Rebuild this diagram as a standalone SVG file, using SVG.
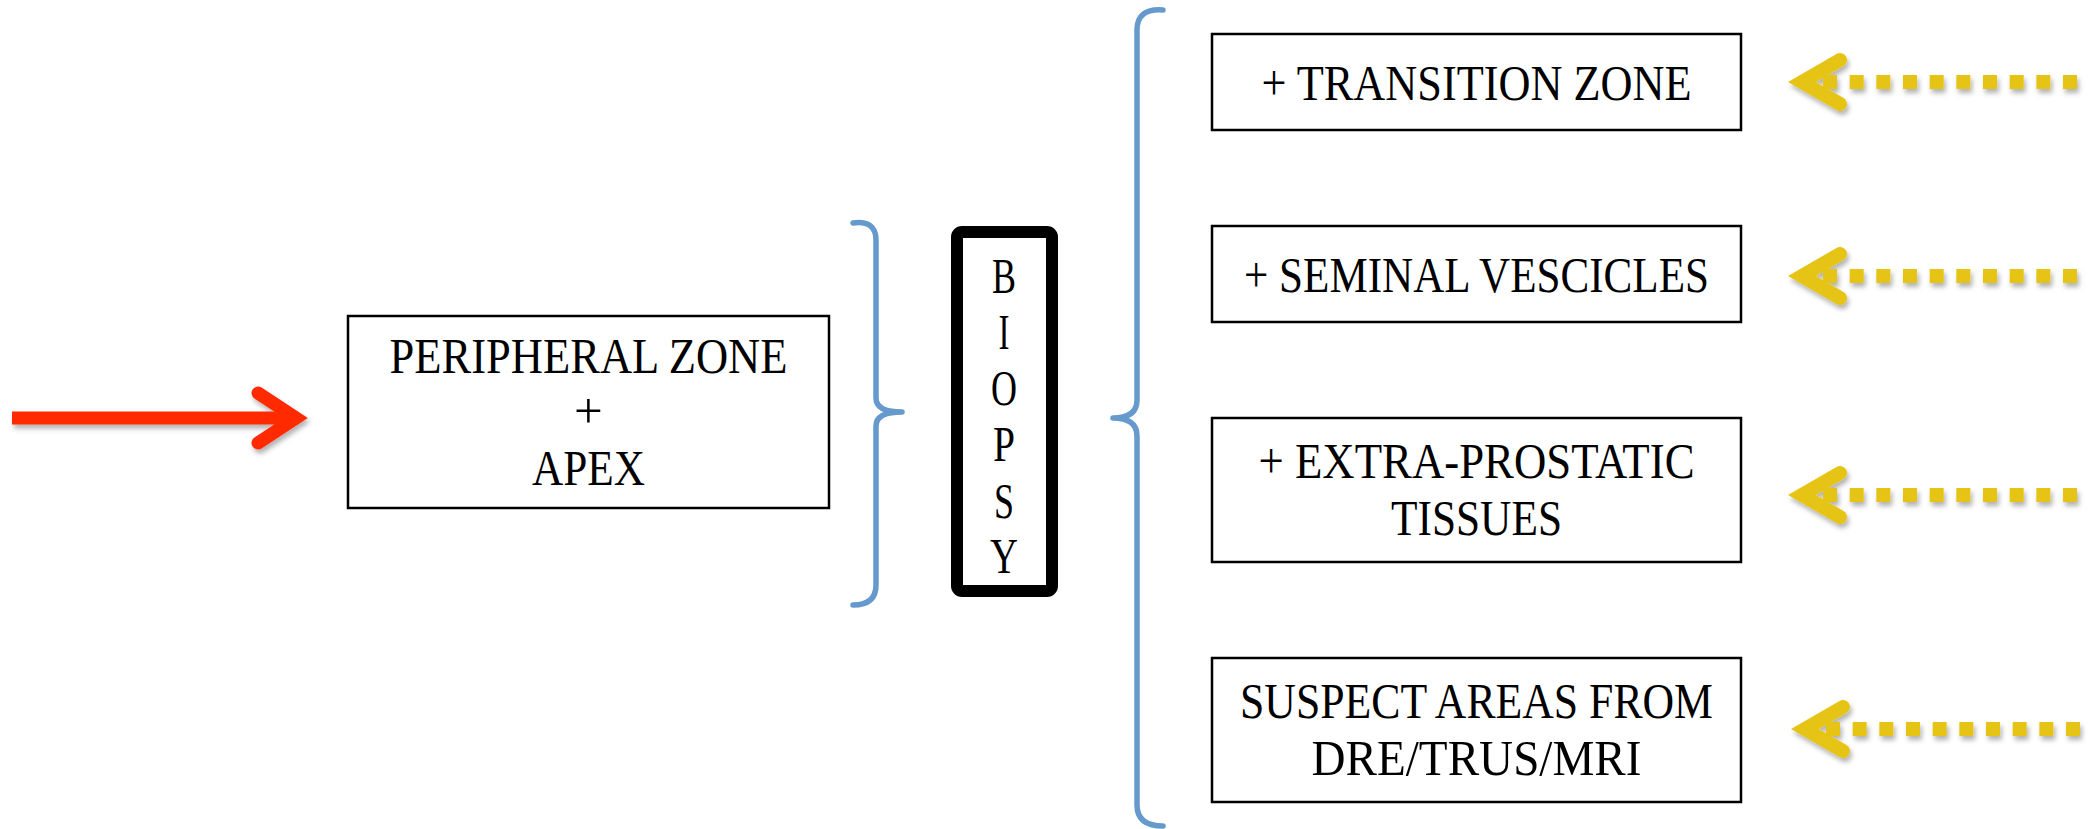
<svg xmlns="http://www.w3.org/2000/svg" width="2089" height="829" viewBox="0 0 2089 829">
<style>
.box{fill:#fff;stroke:#000;stroke-width:2.5}
.t{font-family:"Liberation Serif","Times New Roman",serif;font-size:51px;fill:#000;text-anchor:middle}
.brace{fill:none;stroke:#6699cc;stroke-width:5.5;stroke-linecap:round;stroke-linejoin:round}
.red{fill:none;stroke:#ff2a00;stroke-width:13}
.yel{fill:none;stroke:#e6c412;stroke-width:14}
</style>
<defs>
<filter id="sh" x="-10%" y="-30%" width="130%" height="180%">
<feDropShadow dx="2" dy="4" stdDeviation="2.5" flood-color="#000" flood-opacity="0.3"/>
</filter>
</defs>
<g id="connectors">
<g id="red-arrow" filter="url(#sh)">
<line class="red" x1="12" y1="418" x2="298" y2="418"/>
<polyline class="red" points="258,393 296,418 258,443" stroke-linecap="round" stroke-linejoin="miter"/>
</g>
<g id="yellow-arrows" filter="url(#sh)">
<line class="yel" x1="1823" y1="82" x2="2077" y2="82" stroke-dasharray="14 12.67"/>
<polyline class="yel" points="1840,60 1802,82 1840,104" stroke-linecap="round"/>
<line class="yel" x1="1823" y1="276" x2="2077" y2="276" stroke-dasharray="14 12.67"/>
<polyline class="yel" points="1840,254 1802,276 1840,298" stroke-linecap="round"/>
<line class="yel" x1="1823" y1="495" x2="2077" y2="495" stroke-dasharray="14 12.67"/>
<polyline class="yel" points="1840,473 1802,495 1840,517" stroke-linecap="round"/>
<line class="yel" x1="1826" y1="729" x2="2080" y2="729" stroke-dasharray="14 12.67"/>
<polyline class="yel" points="1843,707 1805,729 1843,751" stroke-linecap="round"/>
</g>
<path id="left-brace" class="brace" d="M853,223 Q876,220 876,240 L876,398 Q876,412 902,412 Q876,412 876,426 L876,585 Q876,605 853,605"/>
<path id="right-brace" class="brace" d="M1163,10 Q1137,8 1137,30 L1137,400 Q1137,418 1113,418 Q1137,418 1137,436 L1137,805 Q1137,826 1163,826"/>
</g>
<g id="peripheral">
<rect class="box" x="348" y="316" width="481" height="192"/>
<text class="t" x="588.5" y="373" textLength="398" lengthAdjust="spacingAndGlyphs">PERIPHERAL ZONE</text>
<text class="t" x="588.5" y="428">+</text>
<text class="t" x="588.5" y="485" textLength="113" lengthAdjust="spacingAndGlyphs">APEX</text>
</g>
<g id="biopsy">
<rect x="957" y="232" width="95" height="359" rx="5" fill="#fff" stroke="#000" stroke-width="12"/>
<text class="t" x="1004" y="293" textLength="24" lengthAdjust="spacingAndGlyphs">B</text>
<text class="t" x="1004" y="349" textLength="11" lengthAdjust="spacingAndGlyphs">I</text>
<text class="t" x="1004" y="405" textLength="26" lengthAdjust="spacingAndGlyphs">O</text>
<text class="t" x="1004" y="461" textLength="22" lengthAdjust="spacingAndGlyphs">P</text>
<text class="t" x="1004" y="518" textLength="20" lengthAdjust="spacingAndGlyphs">S</text>
<text class="t" x="1004" y="573" textLength="28" lengthAdjust="spacingAndGlyphs">Y</text>
</g>
<g id="transition">
<rect class="box" x="1212" y="34" width="529" height="96"/>
<text class="t" x="1476.5" y="100" textLength="430" lengthAdjust="spacingAndGlyphs">+ TRANSITION ZONE</text>
</g>
<g id="seminal">
<rect class="box" x="1212" y="226" width="529" height="96"/>
<text class="t" x="1476.5" y="292" textLength="465" lengthAdjust="spacingAndGlyphs">+ SEMINAL VESCICLES</text>
</g>
<g id="extra">
<rect class="box" x="1212" y="418" width="529" height="144"/>
<text class="t" x="1476.5" y="478" textLength="436" lengthAdjust="spacingAndGlyphs">+ EXTRA-PROSTATIC</text>
<text class="t" x="1476.5" y="535" textLength="171" lengthAdjust="spacingAndGlyphs">TISSUES</text>
</g>
<g id="suspect">
<rect class="box" x="1212" y="658" width="529" height="144"/>
<text class="t" x="1476.5" y="718" textLength="473" lengthAdjust="spacingAndGlyphs">SUSPECT AREAS FROM</text>
<text class="t" x="1476.5" y="775" textLength="330" lengthAdjust="spacingAndGlyphs">DRE/TRUS/MRI</text>
</g>
</svg>
